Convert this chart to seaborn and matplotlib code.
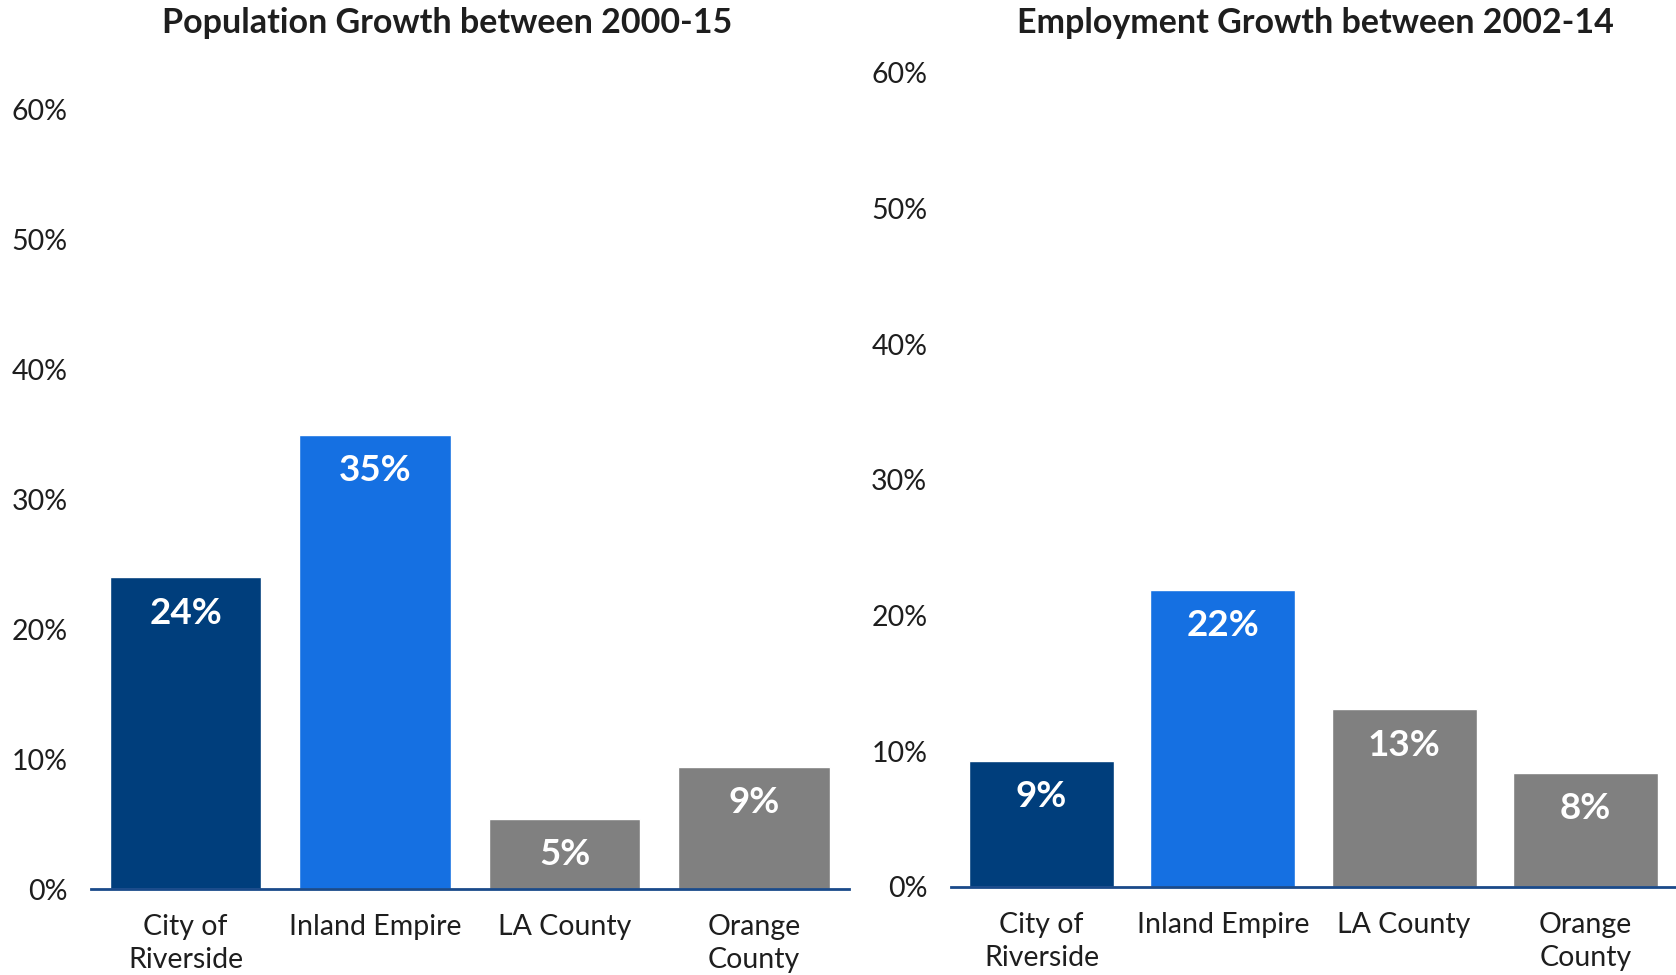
import matplotlib
matplotlib.use("Agg")
import matplotlib.pyplot as plt
import seaborn as sns
import pandas as pd

categories = ["City of\nRiverside", "Inland Empire", "LA County", "Orange\nCounty"]
pop_growth = [0.24, 0.35, 0.054, 0.094]
pop_labels = ["24%", "35%", "5%", "9%"]
emp_growth = [0.093, 0.219, 0.131, 0.084]
emp_labels = ["9%", "22%", "13%", "8%"]
yticks = [0.0, 0.1, 0.2, 0.3, 0.4, 0.5, 0.6]
ytick_labels = ["0%", "10%", "20%", "30%", "40%", "50%", "60%"]
titles = ["Population Growth between 2000-15", "Employment Growth between 2002-14"]

colors = ["#003E7C", "#1570E2", "#808080", "#808080"]
text_color = "#1E1E1E"
axis_color = "#1A4A8A"

sns.set_theme(style="white")
plt.rcParams["font.family"] = ["Lato", "DejaVu Sans"]

fig = plt.figure(figsize=(16.76, 9.75), dpi=100)
ax1 = fig.add_axes([0.0543, 0.0882, 0.4521, 0.799])
ax2 = fig.add_axes([0.5674, 0.0903, 0.4326, 0.8351])

panels = [(ax1, pop_growth, pop_labels, 447), (ax2, emp_growth, emp_labels, 1315)]
for i, (ax, vals, labs, tx) in enumerate(panels):
    df = pd.DataFrame({"cat": categories, "val": vals})
    sns.barplot(data=df, x="cat", y="val", hue="cat", palette=colors, ax=ax,
                width=0.8, legend=False, saturation=1)
    ax.set_xlim(-0.5, 3.5)
    ax.set_ylim(0, 0.6)
    ax.set_yticks(yticks)
    ax.set_yticklabels(ytick_labels)
    ax.set_xlabel("")
    ax.set_ylabel("")
    for s in ["top", "left", "right"]:
        ax.spines[s].set_visible(False)
    ax.spines["bottom"].set_color(axis_color)
    ax.spines["bottom"].set_linewidth(2)
    ax.tick_params(axis="y", length=0, pad=17, labelsize=20.5, labelcolor=text_color)
    ax.tick_params(axis="x", length=0, pad=18, labelsize=20.5, labelcolor=text_color)
    for lbl in ax.get_xticklabels():
        lbl.set_linespacing(1.35)
        lbl.set_verticalalignment("top")
    for j, (v, l) in enumerate(zip(vals, labs)):
        ax.annotate(l, (j, v), xytext=(0, -14), textcoords="offset points",
                    ha="center", va="top", color="white", fontsize=26.5,
                    fontweight="bold")
    fig.text(tx / 1676, 1 - 23 / 975, titles[i], ha="center", va="center",
             fontsize=24.5, fontweight="bold", color=text_color)

fig.savefig("out.png", dpi=100)
